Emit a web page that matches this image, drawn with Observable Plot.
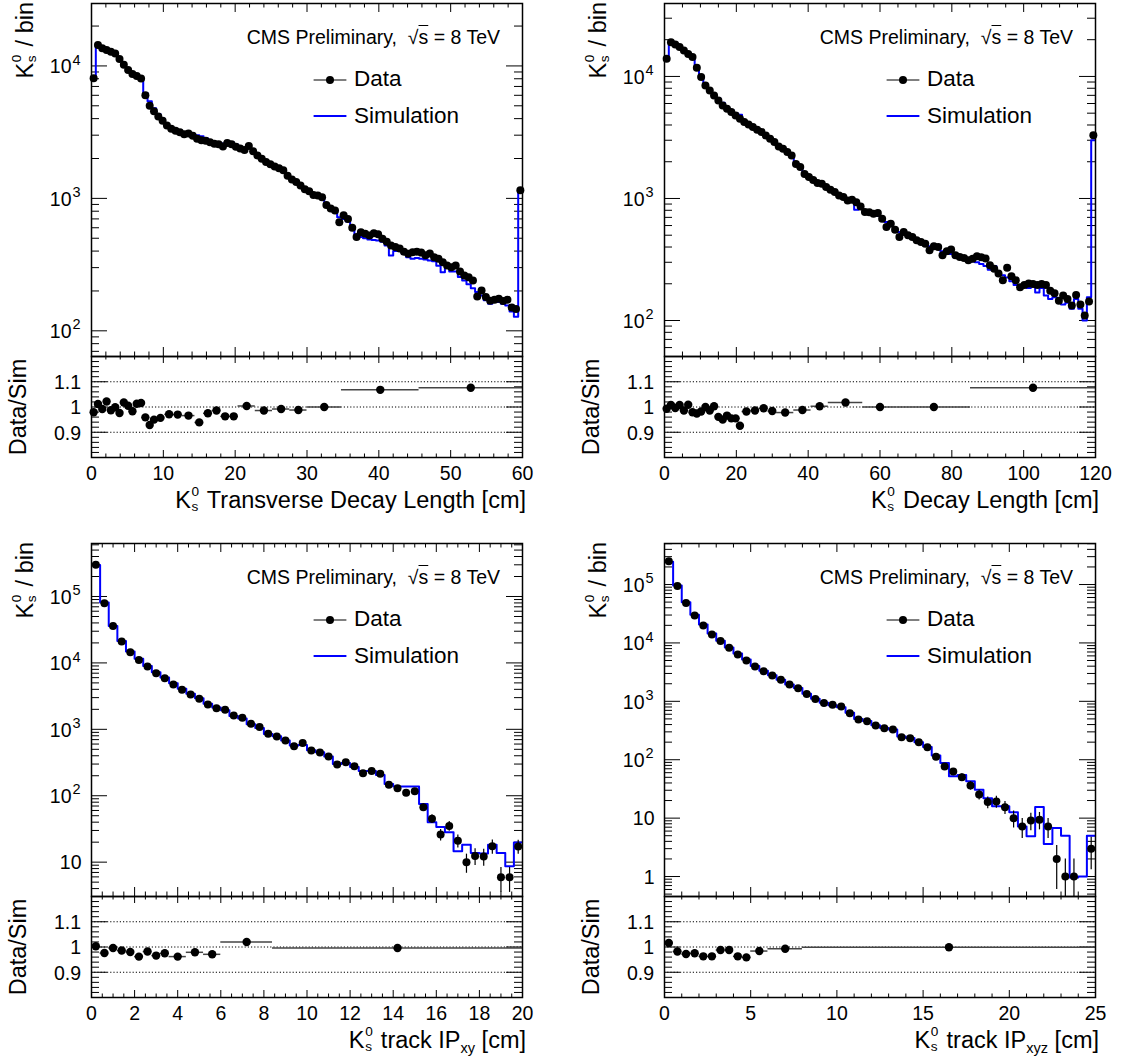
<!DOCTYPE html>
<html><head><meta charset="utf-8">
<script src="https://cdn.jsdelivr.net/npm/d3@7"></script>
<script src="https://cdn.jsdelivr.net/npm/@observablehq/plot@0.6"></script>
<style>
body{margin:0;background:#fff;}
#root{position:relative;width:1121px;height:1057px;overflow:hidden;background:#fff;font-family:"Liberation Sans",Arial,Helvetica,sans-serif;}
.t{position:absolute;white-space:nowrap;line-height:1;color:#000;font-family:"Liberation Sans",Arial,Helvetica,sans-serif;}
.ss{display:inline-block;position:relative;width:0.42em;height:0.1em;}
.sp{position:absolute;left:0.05em;top:-1.545em;font-size:0.58em;line-height:1;}
.sb{position:absolute;left:0.05em;top:-0.407em;font-size:0.58em;line-height:1;}
.lo{font-size:0.62em;position:relative;top:0.35em;}
.ov{text-decoration:overline;}
</style></head><body><div id="root"></div>
<script>
// ---------------- Panel 1: K0s transverse decay length (0.6 cm bins) ----------------
const p1BinWidth = 0.6;
const p1Data = [8070,14400,13600,13200,12800,12400,11300,10200,9300,8700,
8400,8050,6000,5000,4550,4150,3850,3550,3350,3240,
3150,3050,3090,2970,2820,2750,2720,2650,2580,2560,
2460,2620,2560,2450,2380,2320,2490,2270,2110,1990,
1880,1810,1740,1690,1630,1480,1390,1330,1250,1170,
1130,1060,1050,1020,890,840,810,660,745,700,
600,510,555,540,525,545,535,495,470,440,
430,418,395,382,392,395,390,372,383,360,
350,330,312,302,312,280,262,254,240,182,
202,180,169,172,175,168,172,150,146,1150];
const p1Sim = [8100,14200,13500,13000,12600,12300,11200,10100,9300,8600,
8200,7950,6250,5400,4800,4330,4000,3650,3450,3330,
3250,3130,3120,3080,3000,2950,2850,2720,2650,2580,
2600,2640,2650,2550,2400,2350,2420,2260,2120,2020,
1900,1830,1750,1700,1650,1470,1400,1330,1260,1190,
1130,1080,1040,1000,910,850,800,720,700,670,
610,520,510,500,490,485,480,470,440,370,
400,410,380,360,350,355,350,345,340,335,
310,277,300,280,280,255,240,225,210,196,
185,170,160,175,165,160,155,140,128,1130];
const p1Ratio = [[0,0.6,0.979],[0.6,1.2,1.012],[1.2,1.8,0.992],[1.8,2.4,1.022],[2.4,3.0,0.987],[3.0,3.6,0.999],[3.6,4.2,0.976],[4.2,4.8,1.018],[4.8,5.4,1.005],[5.4,6.0,0.983],[6.0,6.6,1.013],[6.6,7.2,1.016],[7.2,7.8,0.959],[7.8,8.4,0.929],[8.4,9.0,0.95],[9.0,10.2,0.957],[10.2,11.4,0.971],[11.4,12.6,0.970],[12.6,14.4,0.966],[14.4,15.6,0.939],[15.6,16.8,0.975],[16.8,18.0,0.986],[18.0,19.2,0.963],[19.2,20.4,0.963],[20.4,22.8,1.004],[22.8,25.2,0.986],[25.2,27.6,0.992],[27.6,30.0,0.988],[30.0,34.8,1.0],[34.8,45.6,1.068],[45.6,60,1.076]];

// ---------------- Panel 2: K0s decay length (1.2 cm bins) ----------------
const p2BinWidth = 1.2;
const p2Data = [13960,19100,18300,17400,16300,15300,14400,11800,9880,8440,
7680,6990,6360,5780,5430,5100,4790,4500,4230,4040,
3850,3660,3500,3280,3080,2900,2670,2550,2400,2250,
1920,1810,1590,1500,1420,1340,1320,1240,1180,1130,
1060,1030,964,975,930,861,774,770,750,760,
683,583,620,555,483,531,500,483,454,440,
425,376,405,401,343,370,381,343,332,325,
312,320,336,330,322,284,265,243,214,271,
230,214,187,195,201,199,195,199,195,175,
167,145,160,150,133,162,135,110,143,3300];
const p2Sim = [14000,19000,18400,17300,16400,15200,14700,12000,10100,8500,
7700,7000,6600,6100,5600,5300,5000,4850,4300,4100,
3870,3700,3550,3300,3150,2930,2700,2600,2450,2300,
1960,1830,1600,1520,1440,1360,1330,1250,1180,1120,
1060,1020,970,940,810,840,790,770,740,720,
670,640,600,560,530,520,500,475,455,440,
420,405,395,400,370,365,350,330,330,325,
315,305,300,290,280,260,280,235,235,225,
210,195,185,190,185,190,170,185,160,150,
155,145,135,140,125,150,125,100,155,3000];
const p2Ratio = [[0,1.2,0.993],[1.2,2.4,1.008],[2.4,3.6,0.996],[3.6,4.8,1.008],[4.8,6.0,0.986],[6.0,7.2,1.009],[7.2,8.4,0.979],[8.4,9.6,0.974],[9.6,10.8,0.982],[10.8,12.0,1.0],[12.0,13.2,0.986],[13.2,14.4,1.003],[14.4,15.6,0.961],[15.6,16.8,0.95],[16.8,18.0,0.966],[18.0,19.2,0.955],[19.2,20.4,0.955],[20.4,21.6,0.926],[21.6,24.0,0.982],[24.0,26.4,0.986],[26.4,28.8,0.995],[28.8,31.2,0.984],[31.2,36.0,0.978],[36.0,40.8,0.988],[40.8,45.6,1.003],[45.6,55.2,1.018],[55.2,64.8,1.0],[64.8,85.2,1.0],[85.2,120,1.076]];

// ---------------- Panel 3: K0s track IPxy (0.4 cm bins) ----------------
const p3BinWidth = 0.4;
const p3Data = [3.0e5,7.9e4,3.6e4,2.1e4,1.45e4,1.11e4,8800,7000,5900,4730,
3940,3350,2880,2360,2080,1970,1620,1490,1210,1080,
857,780,680,558,620,480,448,390,295,320,
279,219,235,214,146,130,111,117,67,45,
26,35,21,10,12.4,12.2,17.4,5.9,5.9,17.2];
const p3Sim = [2.99e5,8.09e4,3.61e4,2.13e4,1.48e4,1.154e4,8960,7250,6050,4920,
4100,3420,2940,2430,2140,1930,1590,1450,1190,1050,
850,790,680,570,580,485,450,390,300,310,
270,235,235,205,150,138,138,138,75,40,
33.7,28.2,14.6,18.3,13.7,13.5,18.3,13.7,8.7,19.8];
const p3Err = [0,0,0,0,0,0,0,0,0,0,
0,0,0,0,0,0,0,0,0,0,
0,0,0,0,0,0,0,0,0,0,
0,0,0,0,12,11.4,10.5,10.8,8.2,6.7,
5.1,5.9,4.6,3.2,3.5,3.5,4.2,2.4,2.4,4.1];
const p3Ratio = [[0,0.4,1.003],[0.4,0.8,0.976],[0.8,1.2,0.996],[1.2,1.6,0.986],[1.6,2.0,0.98],[2.0,2.4,0.962],[2.4,2.8,0.982],[2.8,3.2,0.966],[3.2,3.6,0.975],[3.6,4.4,0.962],[4.4,5.2,0.979],[5.2,6.0,0.971],[6.0,8.4,1.02],[8.4,20,0.996]];

// ---------------- Panel 4: K0s track IPxyz (0.5 cm bins) ----------------
const p4BinWidth = 0.5;
const p4Data = [2.5e5,9.4e4,4.85e4,2.95e4,1.99e4,1.4e4,1.08e4,8250,6330,5000,
3950,3280,2770,2330,1940,1680,1340,1100,940,870,
815,627,488,457,385,347,329,243,234,200,
164,113,76.5,62.9,50.3,36.2,25.4,18.8,19.2,15.4,
10,7.2,9.1,9.4,7.2,2.0,1,1,null,3.0];
const p4Sim = [2.46e5,9.6e4,4.99e4,3.03e4,2.07e4,1.45e4,1.09e4,8350,6570,5210,
4010,3340,2790,2350,1950,1690,1350,1110,950,860,
790,640,500,460,390,350,330,250,235,200,
165,118,88,52,55,42.8,30.5,22,16,16,
12.6,7.2,4.9,15.5,3.6,6.8,5.0,0.96,1.0,5.0];
const p4Err = [0,0,0,0,0,0,0,0,0,0,
0,0,0,0,0,0,0,0,0,0,
0,0,0,0,0,0,0,0,0,0,
0,0,8.7,7.9,7.1,6.0,5.0,4.3,4.4,3.9,
3.2,2.7,3.0,3.1,2.7,1.4,1,1,0,1.7];
const p4Ratio = [[0,0.5,1.016],[0.5,1.0,0.982],[1.0,1.5,0.972],[1.5,2.0,0.975],[2.0,2.5,0.963],[2.5,3.0,0.963],[3.0,3.5,0.988],[3.5,4.0,0.988],[4.0,4.5,0.963],[4.5,5.0,0.959],[5.0,6.0,0.984],[6.0,8.0,0.993],[8.0,25,0.999]];

// ---------------- texts ----------------
const KS = 'K<span class="ss"><span class="sp">0</span><span class="sb">s</span></span>';
const yTitle = KS + ' / bin';
const ratioTitle = 'Data/Sim';
const cmsLabel = 'CMS Preliminary,&nbsp; √<span class="ov">s</span> = 8 TeV';
const legendLabels = ['Data', 'Simulation'];

const FONT = '"Liberation Sans", Arial, Helvetica, sans-serif';
const MAIN_H = 353, RATIO_H = 101;
const TICK_FS = 19.5, TITLE_FS = 23.5, LEG_FS = 22.5, CMS_FS = 19.5;

const panels = [
  {data:p1Data, sim:p1Sim, err:null, binW:p1BinWidth, ratio:p1Ratio, xMax:60, xMajor:10, xMinor:2, yDomain:[64,29600],
   svgLeft:0, frameLeft:91, frameRight:522, top:3, xTitle: KS + ' Transverse Decay Length [cm]'},
  {data:p2Data, sim:p2Sim, err:null, binW:p2BinWidth, ratio:p2Ratio, xMax:120, xMajor:20, xMinor:5, yDomain:[50.7,39600],
   svgLeft:560, frameLeft:664, frameRight:1095, top:3, xTitle: KS + ' Decay Length [cm]'},
  {data:p3Data, sim:p3Sim, err:p3Err, binW:p3BinWidth, ratio:p3Ratio, xMax:20, xMajor:2, xMinor:0.5, yDomain:[3.04,6.28e5],
   svgLeft:0, frameLeft:91, frameRight:522, top:543, xTitle: KS + ' track IP<span class="lo">xy</span> [cm]'},
  {data:p4Data, sim:p4Sim, err:p4Err, binW:p4BinWidth, ratio:p4Ratio, xMax:25, xMajor:5, xMinor:1, yDomain:[0.455,5.04e5],
   svgLeft:560, frameLeft:664, frameRight:1095, top:543, xTitle: KS + ' track IP<span class="lo">xyz</span> [cm]'}
];

function logTicks(lo, hi) {
  const out = [];
  for (let e = Math.floor(Math.log10(lo)); e <= Math.ceil(Math.log10(hi)); e++)
    for (let m = 1; m <= 9; m++) { const v = m * Math.pow(10, e); if (v >= lo && v <= hi) out.push({v, major: m === 1, e}); }
  return out;
}
function linTicks(max, major, minor) {
  return d3.range(0, Math.round(max / minor) + 1).map(i => {
    const v = +(i * minor).toFixed(6);
    const q = v / major;
    return {v, major: Math.abs(q - Math.round(q)) < 1e-6};
  });
}
function tickMarksX(ticks, fh, majorLen, minorLen) {
  const maj = ticks.filter(t => t.major), mi = ticks.filter(t => !t.major);
  const o = {stroke: "black", strokeWidth: 1};
  return [
    Plot.tickX(maj, {x: "v", insetTop: fh - majorLen, ...o}),
    Plot.tickX(mi, {x: "v", insetTop: fh - minorLen, ...o}),
    Plot.tickX(maj, {x: "v", insetBottom: fh - majorLen, ...o}),
    Plot.tickX(mi, {x: "v", insetBottom: fh - minorLen, ...o})
  ];
}
function tickMarksY(ticks, fw, majorLen, minorLen) {
  const maj = ticks.filter(t => t.major), mi = ticks.filter(t => !t.major);
  const o = {stroke: "black", strokeWidth: 1};
  return [
    Plot.tickY(maj, {y: "v", insetRight: fw - majorLen, ...o}),
    Plot.tickY(mi, {y: "v", insetRight: fw - minorLen, ...o}),
    Plot.tickY(maj, {y: "v", insetLeft: fw - majorLen, ...o}),
    Plot.tickY(mi, {y: "v", insetLeft: fw - minorLen, ...o})
  ];
}

function mainPlot(p) {
  const W = 560, fw = p.frameRight - p.frameLeft;
  const n = p.data.length;
  const steps = p.sim.map((v, i) => ({x: i * p.binW, y: v}));
  steps.push({x: n * p.binW, y: p.sim[n - 1]});
  const pts = p.data.map((v, i) => ({x: (i + 0.5) * p.binW, y: v, e: p.err ? p.err[i] : 0})).filter(d => d.y != null);
  const yt = logTicks(p.yDomain[0], p.yDomain[1]);
  const xt = linTicks(p.xMax, p.xMajor, p.xMinor);
  const dec = yt.filter(t => t.major);
  return Plot.plot({
    width: W, height: MAIN_H,
    marginLeft: p.frameLeft - p.svgLeft, marginRight: p.svgLeft + W - p.frameRight, marginTop: 0, marginBottom: 0,
    x: {domain: [0, p.xMax], axis: null},
    y: {type: "log", domain: p.yDomain, axis: null},
    style: {fontFamily: FONT, fontSize: TICK_FS + "px", background: "transparent", overflow: "visible"},
    marks: [
      ...tickMarksY(yt, fw, 16, 8),
      ...tickMarksX(xt, MAIN_H, 9, 4.5),
      Plot.line(steps, {x: "x", y: "y", curve: "step-after", stroke: "#0000ff", strokeWidth: 2, clip: true}),
      Plot.ruleX(pts.filter(d => d.e > 0), {x: "x", y1: d => Math.max(d.y - d.e, 1e-3), y2: d => d.y + d.e, stroke: "black", strokeWidth: 1.2, clip: true}),
      Plot.dot(pts, {x: "x", y: "y", r: 4, fill: "black", stroke: "none"}),
      Plot.frame({stroke: "black", strokeWidth: 1.5}),
      Plot.text(dec.filter(d => d.e >= 2), {y: "v", frameAnchor: "left", text: () => "10", textAnchor: "end", dx: -20, dy: 1, fontSize: TICK_FS}),
      Plot.text(dec.filter(d => d.e >= 2), {y: "v", frameAnchor: "left", text: d => String(d.e), textAnchor: "end", dx: -11, dy: -6, fontSize: 14.5}),
      Plot.text(dec.filter(d => d.e < 2), {y: "v", frameAnchor: "left", text: d => String(d.v), textAnchor: "end", dx: -10, dy: 1, fontSize: TICK_FS})
    ]
  });
}

function ratioPlot(p) {
  const W = 560, fw = p.frameRight - p.frameLeft;
  const xt = linTicks(p.xMax, p.xMajor, p.xMinor);
  const yt = d3.range(0, 21).map(i => { const v = +(0.8 + i * 0.02).toFixed(4); return {v, major: i % 5 === 0}; });
  return Plot.plot({
    width: W, height: RATIO_H,
    marginLeft: p.frameLeft - p.svgLeft, marginRight: p.svgLeft + W - p.frameRight, marginTop: 0, marginBottom: 0,
    x: {domain: [0, p.xMax], axis: null},
    y: {domain: [0.8, 1.2], axis: null},
    style: {fontFamily: FONT, fontSize: TICK_FS + "px", background: "transparent", overflow: "visible"},
    marks: [
      Plot.ruleY([0.9, 1, 1.1], {stroke: "black", strokeWidth: 1, strokeDasharray: "1.2,2"}),
      ...tickMarksY(yt, fw, 16, 8),
      ...tickMarksX(xt, RATIO_H, 7, 3.5),
      Plot.ruleY(p.ratio, {y: d => d[2], x1: d => d[0], x2: d => d[1], stroke: "#444", strokeWidth: 1.5}),
      Plot.dot(p.ratio, {x: d => (d[0] + d[1]) / 2, y: d => d[2], r: 4.2, fill: "black", stroke: "none"}),
      Plot.frame({stroke: "black", strokeWidth: 1.5}),
      Plot.text([0.9, 1, 1.1], {y: d => d, frameAnchor: "left", text: d => (d === 1 ? "1" : d.toFixed(1)), textAnchor: "end", dx: -10.5, dy: 1, fontSize: TICK_FS}),
      Plot.text(xt.filter(t => t.major), {x: "v", frameAnchor: "bottom", text: d => String(d.v), lineAnchor: "top", dy: 9, fontSize: TICK_FS})
    ]
  });
}

const root = document.getElementById("root");
function place(el, left, top) { el.style.position = "absolute"; el.style.left = left + "px"; el.style.top = top + "px"; root.appendChild(el); }
function text(html, size, css) {
  const d = document.createElement("div");
  d.className = "t"; d.innerHTML = html; d.style.fontSize = size + "px";
  Object.assign(d.style, css); root.appendChild(d); return d;
}
const bl = fs => 0.8465 * fs; // baseline offset inside a line-height:1 box

const svgNS = "http://www.w3.org/2000/svg";
const leg = document.createElementNS(svgNS, "svg");
leg.setAttribute("width", 1121); leg.setAttribute("height", 1057);
leg.style.position = "absolute"; leg.style.left = "0px"; leg.style.top = "0px"; leg.style.pointerEvents = "none";

for (const p of panels) {
  place(mainPlot(p), p.svgLeft, p.top);
  place(ratioPlot(p), p.svgLeft, p.top + MAIN_H);
  const ratioBottom = p.top + MAIN_H + RATIO_H;
  // y titles
  text(yTitle, TITLE_FS, {left: (p.frameLeft - 57 - bl(TITLE_FS)) + "px", top: (p.top - 1) + "px", transformOrigin: "0 0", transform: "rotate(-90deg) translateX(-100%)"});
  text(ratioTitle, TITLE_FS, {left: (p.frameLeft - 64 - bl(TITLE_FS)) + "px", top: (p.top + MAIN_H + RATIO_H / 2) + "px", transformOrigin: "0 0", transform: "rotate(-90deg) translateX(-50%)"});
  // x title
  text(p.xTitle, TITLE_FS, {left: (p.frameRight + 4) + "px", top: (ratioBottom + 52 - bl(TITLE_FS)) + "px", transform: "translateX(-100%)"});
  // CMS label
  text(cmsLabel, CMS_FS, {left: (p.frameRight - 22) + "px", top: (p.top + 42 - bl(CMS_FS)) + "px", transform: "translateX(-100%)"});
  // legend
  text(legendLabels[0], LEG_FS, {left: (p.frameLeft + 263) + "px", top: (p.top + 84.3 - bl(LEG_FS)) + "px"});
  text(legendLabels[1], LEG_FS, {left: (p.frameLeft + 263) + "px", top: (p.top + 121 - bl(LEG_FS)) + "px"});
  const l1 = document.createElementNS(svgNS, "line");
  l1.setAttribute("x1", p.frameLeft + 222.6); l1.setAttribute("x2", p.frameLeft + 255.4);
  l1.setAttribute("y1", p.top + 77); l1.setAttribute("y2", p.top + 77); l1.setAttribute("stroke", "black"); l1.setAttribute("stroke-width", 1);
  const c1 = document.createElementNS(svgNS, "circle");
  c1.setAttribute("cx", p.frameLeft + 239); c1.setAttribute("cy", p.top + 77); c1.setAttribute("r", 4); c1.setAttribute("fill", "black");
  const l2 = document.createElementNS(svgNS, "line");
  l2.setAttribute("x1", p.frameLeft + 222.6); l2.setAttribute("x2", p.frameLeft + 255.4);
  l2.setAttribute("y1", p.top + 113); l2.setAttribute("y2", p.top + 113); l2.setAttribute("stroke", "#0000ff"); l2.setAttribute("stroke-width", 2);
  leg.appendChild(l1); leg.appendChild(c1); leg.appendChild(l2);
}
root.appendChild(leg);
</script>
</body></html>
